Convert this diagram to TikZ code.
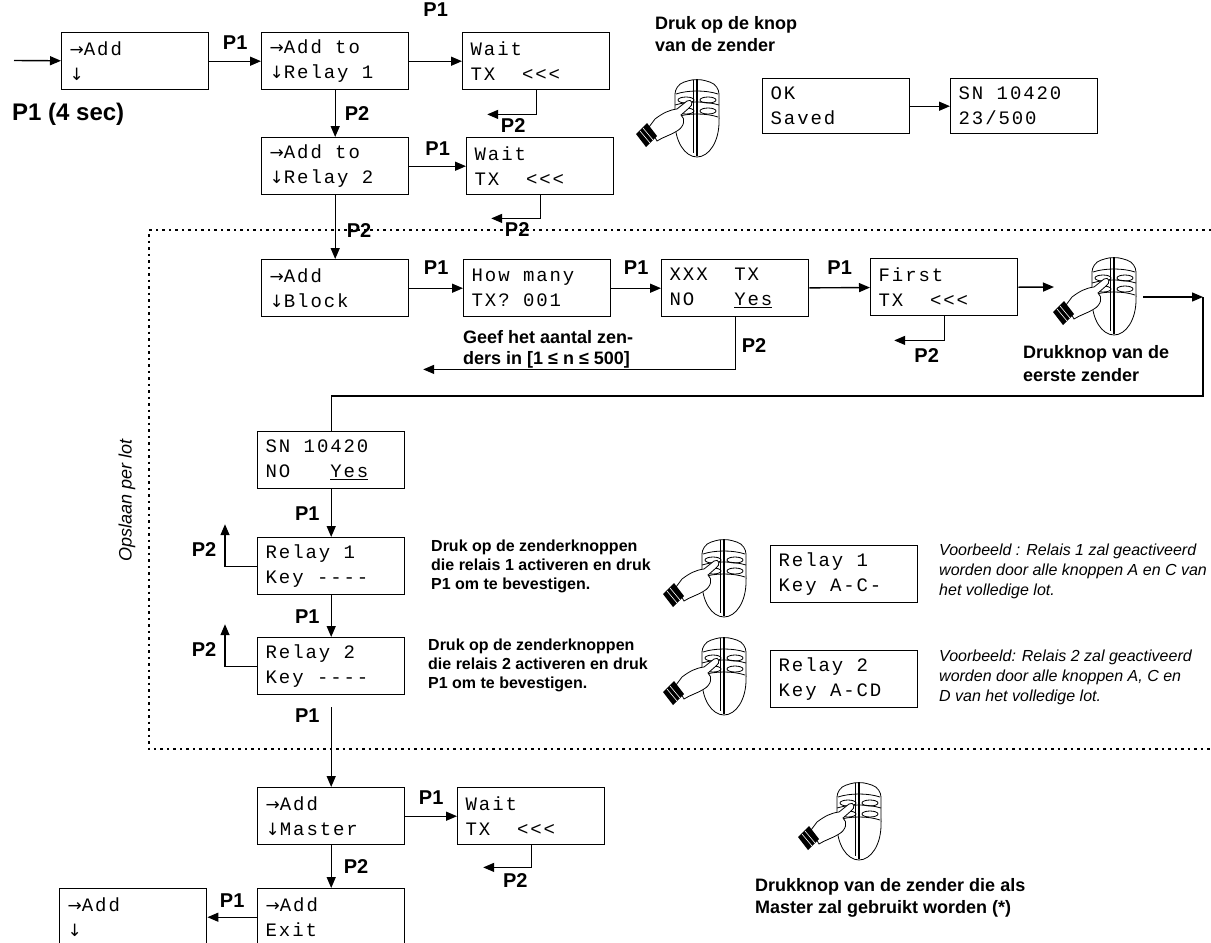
\documentclass[tikz,border=0pt]{standalone}
\usepackage{fontspec}
\setmainfont{Liberation Sans}
\newfontfamily\lcdfont[LetterSpace=10]{Liberation Mono}
\newfontfamily\pijlfont{DejaVu Sans}
\newcommand{\lsp}{\hspace*{13.3pt}}
\newcommand{\rpijl}{{\pijlfont\fontsize{17}{25}\selectfont →}}
\newcommand{\dpijl}{{\pijlfont\fontsize{17}{25}\selectfont ↓}}
\usetikzlibrary{arrows.meta}
\tikzstyle{lcd}=[draw, line width=1.4pt, anchor=north west, minimum width=147pt, minimum height=57pt, text width=131pt, inner xsep=8pt, inner ysep=3pt, align=left, font=\lcdfont\fontsize{19}{25}\selectfont]
\tikzstyle{btn}=[font=\bfseries\fontsize{20}{22}\selectfont, inner sep=2pt]
\tikzstyle{hint}=[anchor=north west, align=left, inner sep=0pt, font=\bfseries\fontsize{18}{22}\selectfont]
\tikzstyle{sample}=[anchor=north west, align=left, inner sep=0pt, font=\itshape\fontsize{16}{20}\selectfont]
\tikzstyle{flow}=[line width=1.4pt, -{Triangle[length=11pt,width=9pt]}]
\tikzstyle{lot}=[line width=1.6pt, dash pattern=on 2.5pt off 4pt]
\newcommand{\zender}[2]{%
    \begin{scope}[shift={(#2)}, line width=.8pt]
        \draw[fill=white] (64,45) ellipse (22 and 35);
        \draw[fill=white, rounded corners=9pt] (42,42) -- (42,8) -- (64,1) -- (86,8) -- (86,42);
        \draw (43,17) .. controls (55,13) and (73,13) .. (85,17);
        \draw (42,28) .. controls (55,24) and (73,24) .. (86,28);
        \draw (43,40) .. controls (55,36) and (73,36) .. (85,40);
        \draw (53,23) ellipse (8 and 3) (75,23) ellipse (8 and 3) (53,34) ellipse (8 and 3) (75,34) ellipse (8 and 3);
        \draw[line width=1.8pt] (64,2) -- (64,79);
        \draw (60,3) -- (60,76);
        \draw[fill=white] (16,50) -- (22,42) .. controls (30,36) and (36,33) .. (44,32) -- (54,24) .. controls (59,21) and (61,28) .. (56,31) -- (48,38) .. controls (53,42) and (51,50) .. (44,54) .. controls (38,58) and (30,60) .. (24,64) -- cycle;
        \fill (3,57) -- (14,46) -- (24,59) -- (13,70) -- cycle;
        \draw[white, line width=.6pt] (7,54) -- (17,66) (10,51) -- (20,63);
        \coordinate (#1-in) at (4,32);
        \coordinate (#1-out) at (93,42);
    \end{scope}}

\begin{document}
\begin{tikzpicture}[x=1pt, y=-1pt]
    \useasboundingbox (0,0) rectangle (1211,943);
    \draw[lot] (1211,230) -- (149,230) -- (149,749) -- (1211,749);
    \node[lcd] (add0) at (61,32) {\rpijl Add\\\dpijl};
    \node[lcd] (relay1) at (261,32) {\rpijl Add\lsp to\\\dpijl Relay\lsp 1};
    \node[lcd] (wait1) at (462,32) {Wait\\TX\lsp\lsp <<<};
    \node[lcd] (relay2) at (261,137) {\rpijl Add\lsp to\\\dpijl Relay\lsp 2};
    \node[lcd] (wait2) at (466,137) {Wait\\TX\lsp\lsp <<<};
    \node[lcd, minimum height=55pt] (saved) at (762,78) {OK\\Saved};
    \node[lcd, minimum height=55pt] (sn) at (950,78) {SN\lsp 10420\\23/500};
    \node[lcd] (block) at (261,259) {\rpijl Add\\\dpijl Block};
    \node[lcd] (howmany) at (463,259) {How\lsp many\\TX?\lsp 001};
    \node[lcd] (confirm) at (661,259) {XXX\lsp\lsp TX\\NO\lsp\lsp\lsp \underline{Yes}};
    \node[lcd] (first) at (870,258) {First\\TX\lsp\lsp <<<};
    \node[lcd] (snyes) at (257,431) {SN\lsp 10420\\NO\lsp\lsp\lsp \underline{Yes}};
    \node[lcd] (key1) at (257,537) {Relay\lsp 1\\Key\lsp {-}{-}{-}{-}};
    \node[lcd] (key2) at (257,637) {Relay\lsp 2\\Key\lsp {-}{-}{-}{-}};
    \node[lcd] (ex1) at (770,545) {Relay\lsp 1\\Key\lsp A{-}C{-}};
    \node[lcd] (ex2) at (770,650) {Relay\lsp 2\\Key\lsp A{-}CD};
    \node[lcd] (master) at (257,787) {\rpijl Add\\\dpijl Master};
    \node[lcd] (wait3) at (457,787) {Wait\\TX\lsp\lsp <<<};
    \node[lcd] (exit) at (257,888) {\rpijl Add\\Exit};
    \node[lcd] (add1) at (59,888) {\rpijl Add\\\dpijl};
    \node[btn, anchor=west, font=\bfseries\fontsize{24}{26}\selectfont] (hold) at (10,114) {P1 (4 sec)};
    \node[hint] (knop) at (655,16) {Druk op de knop\\van de zender};
    \node[hint, font=\bfseries\fontsize{18}{21}\selectfont] (aantal) at (463,330) {Geef het aantal zen-\\ders in [1 ≤ n ≤ 500]};
    \node[hint, font=\bfseries\fontsize{18}{23}\selectfont] (eerste) at (1023,345) {Drukknop van de\\eerste zender};
    \node[hint, font=\bfseries\fontsize{16}{19}\selectfont] (uitleg1) at (431,540) {Druk op de zenderknoppen\\die relais 1 activeren en druk\\P1 om te bevestigen.};
    \node[hint, font=\bfseries\fontsize{16}{19}\selectfont] (uitleg2) at (428,639) {Druk op de zenderknoppen\\die relais 2 activeren en druk\\P1 om te bevestigen.};
    \node[sample] (voorb1) at (939,544) {Voorbeeld : Relais 1 zal geactiveerd\\worden door alle knoppen A en C van\\het volledige lot.};
    \node[sample] (voorb2) at (939,650) {Voorbeeld: Relais 2 zal geactiveerd\\worden door alle knoppen A, C en\\D van het volledige lot.};
    \node[hint] (mastertxt) at (755,878) {Drukknop van de zender die als\\Master zal gebruikt worden (*)};
    \node[rotate=90, font=\itshape\fontsize{18}{20}\selectfont] (lot) at (127,500) {Opslaan per lot};
    \zender{r1}{633,77}
    \zender{r2}{1050,255}
    \zender{r3}{660,537}
    \zender{r4}{660,635}
    \zender{r5}{795,780}
    \coordinate (start) at (14,60.5);
    \coordinate (ret) at (1203,297);
    \path[flow]
        (start) edge (add0)
        (add0) edge node[btn, above=9pt] {P1} (relay1)
        (relay1) edge node[btn, above=42pt] {P1} (wait1)
        (relay1) edge node[btn, right=7pt] {P2} (relay2)
        (relay2) edge node[btn, above=8pt] {P1} (wait2)
        (relay2) edge node[btn, right=9pt, pos=.55] {P2} (block)
        (saved) edge (sn)
        (block) edge node[btn, above=11pt] {P1} (howmany)
        (howmany) edge node[btn, above=11pt] {P1} (confirm)
        (confirm) edge node[btn, above=11pt] {P1} (first)
        (first.east) edge (r2-in)
        (r2-out) edge (ret)
        (snyes) edge node[btn, left=9pt] {P1} (key1)
        (key1) edge node[btn, left=9pt] {P1} (key2)
        ([yshift=-12pt]key2.south) edge node[btn, left=9pt, pos=.1] {P1} (master)
        (master) edge node[btn, above=9pt] {P1} (wait3)
        (master) edge node[btn, right=10pt] {P2} (exit)
        (exit) edge node[btn, above=7pt] {P1} (add1);
    \draw[flow] (wait1.south) -- ++(0,24) -- node[btn, pos=.47, below=1pt] {P2} ++(-49,0);
    \draw[flow] (wait2.south) -- ++(0,23) -- node[btn, pos=.47, below=1pt] {P2} ++(-49,0);
    \draw[flow] (confirm.south) -- node[btn, right=4pt, pos=.54] {P2} ++(0,52) -- ++(-312,0);
    \draw[flow] (first.south) -- ++(0,24) -- node[btn, pos=.35, below=5pt] {P2} ++(-50,0);
    \draw[flow] (wait3.south) -- ++(0,22) -- node[btn, pos=.33, below=3pt] {P2} ++(-48,0);
    \draw[flow] (key1.west) -- ++(-32,0) -- node[btn, left=6pt, pos=.4] {P2} ++(0,-42);
    \draw[flow] (key2.west) -- ++(-32,0) -- node[btn, left=6pt, pos=.4] {P2} ++(0,-42);
    \draw[line width=1.4pt] (ret) -- ++(0,99) -| (snyes.north);
\end{tikzpicture}
\end{document}
